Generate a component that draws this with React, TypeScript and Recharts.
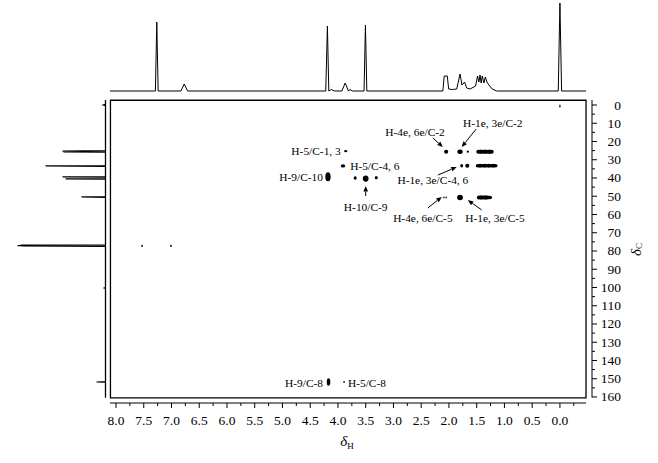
import React from 'react';
import {
  LineChart,
  Line,
  ScatterChart,
  Scatter,
  XAxis,
  YAxis,
  ReferenceArea,
  ReferenceLine,
  ReferenceDot,
} from 'recharts';

const FONT = '"Liberation Serif", "Times New Roman", Times, serif';

// axis ranges in ppm
const H_MIN = -0.578;
const H_MAX = 8.108;
const C_MIN = -2.74;
const C_MAX = 163.3;

// tick labels
const hMajorTicks = [8.0, 7.5, 7.0, 6.5, 6.0, 5.5, 5.0, 4.5, 4.0, 3.5, 3.0, 2.5, 2.0, 1.5, 1.0, 0.5, 0.0];
const hMinorTicks = [7.75, 7.25, 6.75, 6.25, 5.75, 5.25, 4.75, 4.25, 3.75, 3.25, 2.75, 2.25, 1.75, 1.25, 0.75, 0.25, -0.25];
const cMajorTicks = [0, 10, 20, 30, 40, 50, 60, 70, 80, 90, 100, 110, 120, 130, 140, 150, 160];
const cMinorTicks = [5, 15, 25, 35, 45, 55, 65, 75, 85, 95, 105, 115, 125, 135, 145, 155];

// 1H projection: ppm, intensity
const protonTrace: [number, number][] = [
  [8.108, 0], [7.29, 0], [7.265, 69], [7.24, 0], [6.83, 0], [6.77, 7], [6.71, 0],
  [4.22, 0], [4.19, 65], [4.165, 0], [4.12, 1.5], [4.06, 0], [3.93, 0], [3.87, 8], [3.81, 0],
  [3.78, 1.5], [3.74, 0], [3.53, 0], [3.505, 66], [3.48, 0],
  [2.11, 0], [2.085, 15], [2.03, 15], [2.005, 2], [1.94, 1.5], [1.86, 2], [1.80, 17], [1.765, 6],
  [1.72, 9], [1.68, 3], [1.62, 2], [1.52, 5], [1.485, 15], [1.46, 9], [1.44, 16], [1.42, 8],
  [1.40, 15], [1.37, 8], [1.345, 14], [1.315, 9], [1.28, 6], [1.22, 2], [1.14, 0],
  [0.03, 0], [0.0, 88], [-0.03, 0], [-0.47, 0],
];

// 13C projection: ppm, intensity
const carbonTrace: [number, number][] = [
  [-2.7, 0], [-0.3, 0], [0, 2], [0.3, 0], [25.0, 0], [25.3, 43], [25.5, 0], [25.7, 42], [25.9, 0],
  [33.2, 0], [33.4, 60], [33.6, 0], [39.2, 0], [39.4, 43], [39.6, 0], [40.3, 0], [40.5, 40], [40.7, 0],
  [50.2, 0], [50.4, 24], [50.6, 0], [76.6, 0], [76.8, 85], [77.0, 0], [77.1, 88], [77.2, 0],
  [77.3, 84], [77.5, 0], [100.1, 0], [100.3, 2], [100.5, 0], [151.6, 0], [151.8, 9], [152.0, 0],
  [160.3, 0],
];

// HSQC cross peaks: 1H ppm, 13C ppm, 1H half-width, 13C half-width
const crossPeaks: [number, number, number, number][] = [
  [0.0, 0.6, 0.012, 0.9],
  [7.53, 77.2, 0.015, 0.6],
  [7.01, 77.2, 0.015, 0.6],
  [3.86, 25.3, 0.03, 0.6],
  [3.91, 33.4, 0.04, 0.9],
  [4.18, 39.3, 0.048, 2.5],
  [3.69, 40.0, 0.027, 0.9],
  [3.50, 40.3, 0.052, 1.7],
  [3.31, 39.8, 0.027, 0.9],
  [2.05, 25.6, 0.037, 1.1],
  [1.80, 25.6, 0.048, 1.2],
  [1.66, 25.6, 0.02, 0.6],
  [1.47, 25.6, 0.037, 1.1],
  [1.43, 25.6, 0.037, 1.2],
  [1.39, 25.6, 0.037, 1.1],
  [1.35, 25.6, 0.037, 1.2],
  [1.31, 25.6, 0.037, 1.1],
  [1.27, 25.6, 0.037, 1.2],
  [1.23, 25.6, 0.037, 1.1],
  [1.77, 33.3, 0.027, 1.0],
  [1.67, 33.3, 0.037, 1.1],
  [1.48, 33.3, 0.037, 1.0],
  [1.44, 33.3, 0.037, 1.1],
  [1.40, 33.3, 0.037, 1.0],
  [1.36, 33.3, 0.037, 1.1],
  [1.32, 33.3, 0.037, 1.0],
  [1.28, 33.3, 0.037, 1.1],
  [1.24, 33.3, 0.037, 1.0],
  [1.20, 33.3, 0.037, 1.1],
  [1.16, 33.3, 0.037, 1.0],
  [2.09, 50.7, 0.012, 0.5],
  [2.05, 50.7, 0.012, 0.5],
  [1.80, 50.7, 0.052, 1.5],
  [1.46, 50.7, 0.037, 1.1],
  [1.42, 50.7, 0.037, 1.2],
  [1.38, 50.7, 0.037, 1.1],
  [1.34, 50.7, 0.037, 1.2],
  [1.30, 50.7, 0.037, 1.1],
  [1.26, 50.7, 0.037, 1.0],
  [4.17, 151.8, 0.032, 2.1],
  [3.89, 151.8, 0.015, 0.5],
];

// assignment labels: text, 1H ppm, 13C ppm, anchor
const assignLabels: [string, number, number, string][] = [
  ['H-5/C-1, 3', 3.95, 25.2, 'end'],
  ['H-5/C-4, 6', 3.78, 33.4, 'start'],
  ['H-9/C-10', 4.27, 39.5, 'end'],
  ['H-10/C-9', 3.50, 55.9, 'middle'],
  ['H-4e, 6e/C-2', 2.61, 14.8, 'middle'],
  ['H-1e, 3e/C-2', 1.21, 9.9, 'middle'],
  ['H-1e, 3e/C-4, 6', 2.29, 41.1, 'middle'],
  ['H-4e, 6e/C-5', 2.47, 61.9, 'middle'],
  ['H-1e, 3e/C-5', 1.17, 61.9, 'middle'],
  ['H-9/C-8', 4.27, 152.3, 'end'],
  ['H-5/C-8', 3.82, 152.3, 'start'],
];

// arrows: from (1H, 13C) to (1H, 13C)
const assignArrows: [number, number, number, number][] = [
  [2.29, 18.1, 2.11, 23.0],
  [1.51, 13.2, 1.77, 23.0],
  [2.20, 38.4, 1.86, 34.0],
  [2.38, 56.4, 2.13, 50.4],
  [1.41, 57.5, 1.66, 52.1],
  [3.50, 49.9, 3.50, 44.4],
];

const W = 658;
const H = 463;
const PLOT_L = 110;
const PLOT_R = 592;
const PLOT_T = 100;
const PLOT_B = 403;
const PX_H = (PLOT_R - PLOT_L) / (H_MAX - H_MIN);
const PX_C = (PLOT_B - PLOT_T) / (C_MAX - C_MIN);

const protonData = protonTrace.map(([h, i]) => ({ h, i }));
const carbonData = carbonTrace.map(([c, i]) => ({ c, i }));
const peakData = crossPeaks.map(([h, c, dh, dc]) => ({ h, c, dh, dc }));

const XTick = (props: any) => {
  const { x, y, payload } = props;
  const v = payload.value;
  const major = hMajorTicks.includes(v);
  return (
    <g>
      <line x1={x} y1={y} x2={x} y2={y + (major ? 5 : 3)} stroke="#000" />
      {major && (
        <text x={x} y={y + 22} textAnchor="middle" fontFamily={FONT} fontSize={13.5} fill="#000">
          {v.toFixed(1)}
        </text>
      )}
    </g>
  );
};

const YTick = (props: any) => {
  const { x, y, payload } = props;
  const v = payload.value;
  const major = cMajorTicks.includes(v);
  return (
    <g>
      <line x1={x} y1={y} x2={x + (major ? 5 : 3)} y2={y} stroke="#000" />
      {major && (
        <text x={x + 29} y={y} textAnchor="end" dominantBaseline="central" fontFamily={FONT} fontSize={13.5} fill="#000">
          {v}
        </text>
      )}
    </g>
  );
};

const XLabel = (props: any) => {
  const { x, y, width } = props.viewBox;
  return (
    <text x={x + width / 2 - 4} y={y + 43} textAnchor="middle" fontFamily={FONT} fill="#000">
      <tspan fontSize={15} fontStyle="italic">δ</tspan>
      <tspan fontSize={9} dy={3}>H</tspan>
    </text>
  );
};

const YLabel = (props: any) => {
  const { x, y, height } = props.viewBox;
  const cx = x + 44;
  const cy = y + height / 2 - 2;
  return (
    <text x={cx} y={cy} textAnchor="middle" dominantBaseline="central" fontFamily={FONT} fill="#000"
      transform={`rotate(-90, ${cx}, ${cy})`}>
      <tspan fontSize={15} fontStyle="italic">δ</tspan>
      <tspan fontSize={9} dy={3}>C</tspan>
    </text>
  );
};

const peakShape = (p: any) => {
  const { cx, cy, payload } = p;
  return <ellipse cx={cx} cy={cy} rx={payload.dh * PX_H} ry={payload.dc * PX_C} fill="#000" />;
};

const arrowShape = (p: any) => {
  const { x1, y1, x2, y2 } = p;
  const dx = x2 - x1;
  const dy = y2 - y1;
  const len = Math.hypot(dx, dy) || 1;
  const ux = dx / len;
  const uy = dy / len;
  const bx = x2 - ux * 5.5;
  const by = y2 - uy * 5.5;
  const pts = `${x2},${y2} ${bx - uy * 2.3},${by + ux * 2.3} ${bx + uy * 2.3},${by - ux * 2.3}`;
  return (
    <g>
      <line x1={x1} y1={y1} x2={bx} y2={by} stroke="#000" strokeWidth={1} />
      <polygon points={pts} fill="#000" />
    </g>
  );
};

const noDot = () => <g />;

export default function App() {
  return (
    <div style={{ position: 'absolute', left: 0, top: 0, width: W, height: H, background: '#fff' }}>
      {/* 1H projection on top */}
      <div style={{ position: 'absolute', left: 0, top: 0 }}>
        <LineChart width={W} height={93} data={protonData} margin={{ top: 0, left: PLOT_L, right: W - PLOT_R, bottom: 1 }}>
          <XAxis type="number" dataKey="h" domain={[H_MIN, H_MAX]} reversed allowDataOverflow hide />
          <YAxis type="number" domain={[-1, 91]} allowDataOverflow hide />
          <Line type="linear" dataKey="i" stroke="#000" strokeWidth={1} dot={false} isAnimationActive={false} />
        </LineChart>
      </div>

      {/* 13C projection on the left */}
      <div style={{ position: 'absolute', left: 0, top: 0 }}>
        <ScatterChart width={PLOT_L} height={H} margin={{ top: PLOT_T, left: 0, right: 3, bottom: H - PLOT_B }}>
          <XAxis type="number" dataKey="i" domain={[-1.5, 105.5]} reversed allowDataOverflow hide />
          <YAxis type="number" dataKey="c" domain={[C_MIN, C_MAX]} reversed allowDataOverflow hide />
          <ReferenceLine segment={[{ x: 0, y: -2.7 }, { x: 0, y: 160.3 }]} stroke="#000" strokeWidth={1.1}
            ifOverflow="visible" />
          <Scatter data={carbonData} fill="#000" line={{ stroke: '#000', strokeWidth: 1.2 }} lineType="joint"
            shape={noDot} isAnimationActive={false} />
        </ScatterChart>
      </div>

      {/* HSQC map */}
      <div style={{ position: 'absolute', left: 0, top: 0 }}>
        <ScatterChart width={W} height={H} margin={{ top: PLOT_T, left: PLOT_L, right: 0, bottom: 0 }}>
          <XAxis type="number" dataKey="h" domain={[H_MIN, H_MAX]} reversed allowDataOverflow height={H - PLOT_B}
            ticks={[...hMajorTicks, ...hMinorTicks]} interval={0} tick={(p: any) => <XTick {...p} />}
            tickSize={0} tickMargin={0} tickLine={false} axisLine={false} label={{ content: XLabel }} />
          <YAxis type="number" dataKey="c" orientation="right" domain={[C_MIN, C_MAX]} reversed allowDataOverflow
            width={W - PLOT_R} ticks={[...cMajorTicks, ...cMinorTicks]} interval={0} tick={(p: any) => <YTick {...p} />}
            tickSize={0} tickMargin={0} tickLine={false} axisLine={false} label={{ content: YLabel }} />
          <ReferenceArea x1={8.1} x2={-0.47} y1={-2.6} y2={160.5} fill="none" stroke="#000" strokeWidth={1.3}
            ifOverflow="visible" />
          <ReferenceLine segment={[{ x: 8.108, y: C_MAX }, { x: -0.47, y: C_MAX }]} stroke="#000" ifOverflow="visible" />
          <ReferenceLine segment={[{ x: H_MIN, y: -2.74 }, { x: H_MIN, y: 160.3 }]} stroke="#000" ifOverflow="visible" />
          <Scatter data={peakData} fill="#000" shape={peakShape} isAnimationActive={false} />
          {assignArrows.map(([h1, c1, h2, c2], k) => (
            <ReferenceLine key={`a${k}`} segment={[{ x: h1, y: c1 }, { x: h2, y: c2 }]} ifOverflow="visible"
              shape={arrowShape} />
          ))}
          {assignLabels.map(([text, h, c, anchor], k) => (
            <ReferenceDot key={`l${k}`} x={h} y={c} r={1} ifOverflow="visible"
              shape={(p: any) => (
                <text x={p.cx} y={p.cy} textAnchor={anchor} dominantBaseline="central" fontFamily={FONT}
                  fontSize={11.4} fill="#000">
                  {text}
                </text>
              )} />
          ))}
        </ScatterChart>
      </div>
    </div>
  );
}
